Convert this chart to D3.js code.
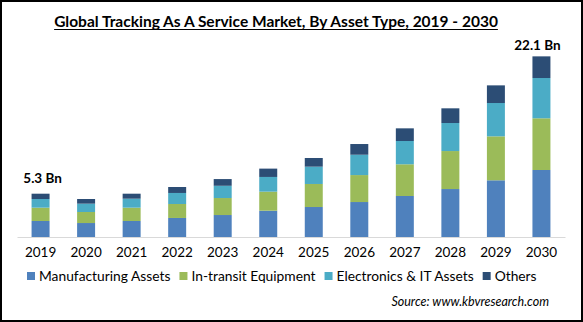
<!DOCTYPE html>
<html>
<head>
<meta charset="utf-8">
<script src="https://cdn.jsdelivr.net/npm/d3@7"></script>
<style>
  body { margin: 0; background: #fff; }
  text { font-family: Lato, "Open Sans", sans-serif; fill: #000; }
</style>
</head>
<body>
<svg width="583" height="322"></svg>
<script>
// Data (USD Bn)
let years = ["2019", "2020", "2021", "2022", "2023", "2024", "2025", "2026", "2027", "2028", "2029", "2030"];
let manufacturing = [1.96, 1.71, 1.96, 2.33, 2.69, 3.22, 3.67, 4.28, 5.02, 5.87, 6.94, 8.20];
let inTransit     = [1.63, 1.35, 1.63, 1.71, 2.08, 2.33, 2.82, 3.30, 3.88, 4.65, 5.38, 6.33];
let electronics   = [1.06, 1.02, 1.10, 1.35, 1.50, 1.80, 2.12, 2.49, 2.85, 3.43, 4.08, 4.93];
let others        = [0.65, 0.57, 0.61, 0.73, 0.82, 1.02, 1.06, 1.31, 1.55, 1.80, 2.16, 2.65];
let seriesNames = ["Manufacturing Assets", "In-transit Equipment", "Electronics & IT Assets", "Others"];
let valueLabels = [{ year: "2019", text: "5.3 Bn" }, { year: "2030", text: "22.1 Bn" }];

let colors = ["#4f81bd", "#9bbb59", "#4bacc6", "#2c4d75"];

let svg = d3.select("svg");
let width = +svg.attr("width");
let height = +svg.attr("height");

// frame
svg.append("rect")
  .attr("x", 1).attr("y", 1)
  .attr("width", width - 2).attr("height", height - 2)
  .attr("fill", "#fff")
  .attr("stroke", "#000")
  .attr("stroke-width", 2);

// title
let title = svg.append("text")
  .attr("x", 276)
  .attr("y", 27)
  .attr("text-anchor", "middle")
  .attr("font-size", 15.5)
  .attr("font-weight", "bold")
  .text("Global Tracking As A Service Market, By Asset Type, 2019 - 2030");
let tw = title.node().getComputedTextLength();
svg.append("line")
  .attr("x1", 276 - tw / 2).attr("x2", 276 + tw / 2)
  .attr("y1", 29.5).attr("y2", 29.5)
  .attr("stroke", "#000").attr("stroke-width", 1.2);

// scales
let x = d3.scaleBand()
  .domain(years)
  .range([17, 565])
  .paddingInner(0.605)
  .paddingOuter(0.32);

let y = d3.scaleLinear()
  .domain([0, 25])
  .range([237, 237 - 25 * 8.17]);

let table = years.map((yr, i) => ({
  year: yr,
  m: manufacturing[i], t: inTransit[i], e: electronics[i], o: others[i]
}));
let stack = d3.stack().keys(["m", "t", "e", "o"]);
let layers = stack(table);

svg.append("g")
  .selectAll("g")
  .data(layers)
  .enter()
  .append("g")
  .attr("fill", (d, i) => colors[i])
  .selectAll("rect")
  .data(d => d)
  .enter()
  .append("rect")
  .attr("x", d => x(d.data.year))
  .attr("width", x.bandwidth())
  .attr("y", d => y(d[1]))
  .attr("height", d => y(d[0]) - y(d[1]));

// baseline axis
let xAxis = svg.append("g")
  .attr("transform", "translate(0,237)")
  .call(d3.axisBottom(x).tickSize(0).tickPadding(10).tickSizeOuter(0));
xAxis.select(".domain").attr("stroke", "#d9d9d9").attr("stroke-width", 1);
xAxis.selectAll("text")
  .attr("font-family", "Lato, sans-serif")
  .attr("font-size", 13.5)
  .attr("fill", "#000")
  .attr("dy", "0.71em");

// value labels
let totals = {};
table.forEach(d => totals[d.year] = d.m + d.t + d.e + d.o);
svg.selectAll(".vlabel")
  .data(valueLabels)
  .enter()
  .append("text")
  .attr("class", "vlabel")
  .attr("x", d => x(d.year) + x.bandwidth() / 2 + (d.year === "2019" ? 2 : -4))
  .attr("y", d => y(totals[d.year]) - (d.year === "2019" ? 11 : 6))
  .attr("text-anchor", "middle")
  .attr("font-size", 13.5)
  .attr("font-weight", "bold")
  .text(d => d.text);

// legend
let legend = svg.append("g").attr("transform", "translate(27,276)");
let lx = 0;
seriesNames.forEach((name, i) => {
  let g = legend.append("g").attr("transform", `translate(${lx},0)`);
  g.append("rect")
    .attr("x", 0).attr("y", -4)
    .attr("width", 8).attr("height", 8)
    .attr("fill", colors[i]);
  let t = g.append("text")
    .attr("x", 12)
    .attr("y", 0)
    .attr("dy", "0.35em")
    .attr("font-size", 13.8)
    .attr("fill", "#262626")
    .text(name);
  lx += 12 + t.node().getComputedTextLength() + 9;
});

// source
svg.append("text")
  .attr("x", 549)
  .attr("y", 306)
  .attr("text-anchor", "end")
  .attr("font-size", 12.5)
  .attr("font-style", "italic")
  .attr("fill", "#262626")
  .text("Source:  www.kbvresearch.com");
</script>
</body>
</html>
